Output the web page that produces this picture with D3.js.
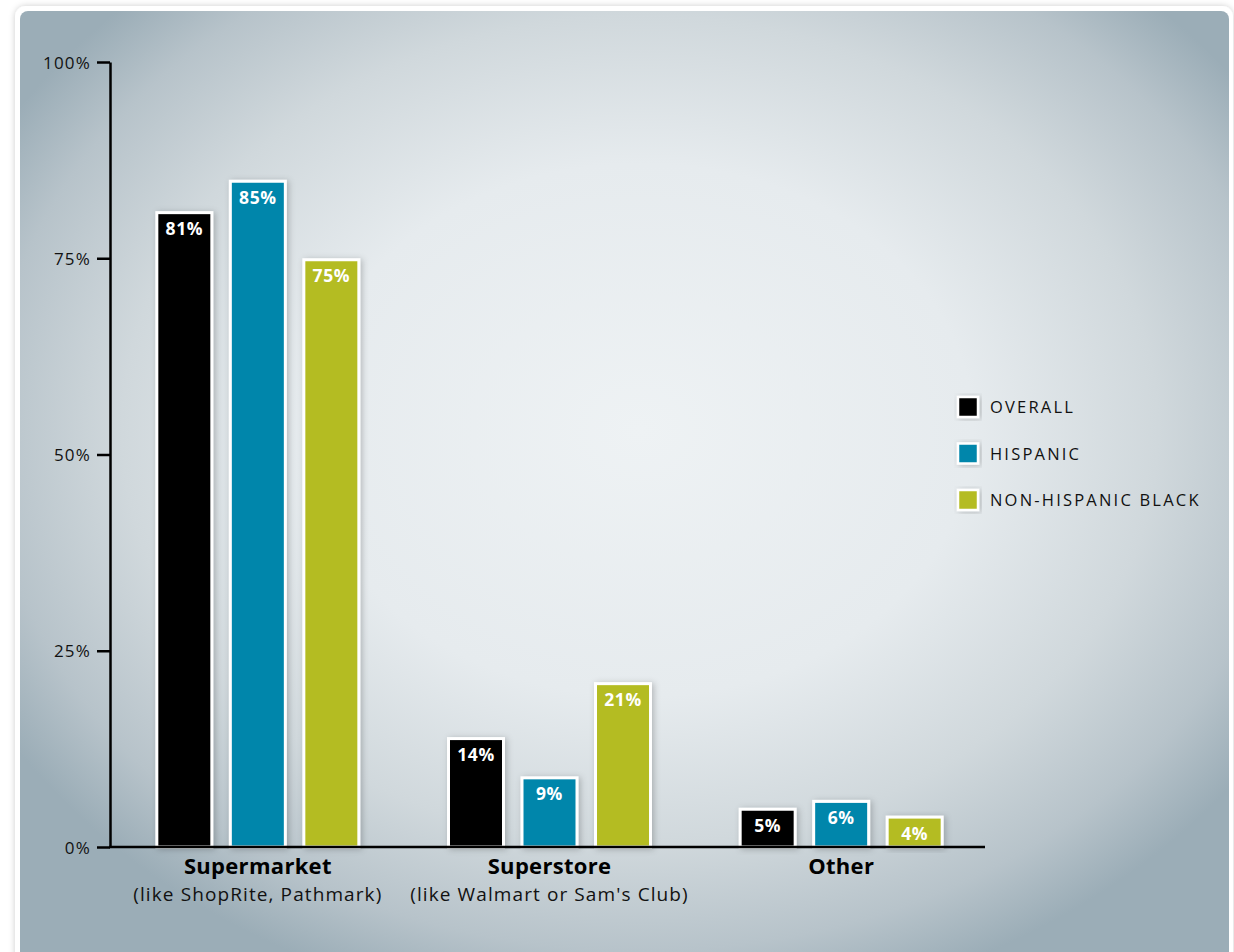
<!DOCTYPE html>
<html><head><meta charset="utf-8">
<script src="https://cdn.jsdelivr.net/npm/d3@7"></script>
<style>html,body{margin:0;padding:0;background:#fff;}svg{display:block;}</style>
</head><body>
<script>
const categories = ["Supermarket", "Superstore", "Other"];
const subtitles = ["(like ShopRite, Pathmark)", "(like Walmart or Sam's Club)", ""];
const series = ["OVERALL", "HISPANIC", "NON-HISPANIC BLACK"];
const overall = [81, 14, 5];
const hispanic = [85, 9, 6];
const nonHispanicBlack = [75, 21, 4];
const yTicks = [0, 25, 50, 75, 100];
const colors = ["#000000", "#0086ab", "#b4bc22"];

const values = [overall, hispanic, nonHispanicBlack];
const W = 1234, H = 952;
const svg = d3.select("body").append("svg").attr("width", W).attr("height", H);
const defs = svg.append("defs");
const rg = defs.append("radialGradient").attr("id","bg").attr("gradientUnits","userSpaceOnUse")
  .attr("cx",640).attr("cy",430).attr("r",740).attr("gradientTransform","translate(640,430) scale(1,0.8) translate(-640,-430)");
rg.append("stop").attr("offset","0").attr("stop-color","#eef2f4");
rg.append("stop").attr("offset","0.45").attr("stop-color","#e6ebee");
rg.append("stop").attr("offset","0.7").attr("stop-color","#d0d8dc");
rg.append("stop").attr("offset","0.88").attr("stop-color","#b7c3ca");
rg.append("stop").attr("offset","1").attr("stop-color","#9badb7");
const sh = defs.append("filter").attr("id","sh").attr("x","-20%").attr("y","-20%").attr("width","140%").attr("height","140%");
sh.append("feDropShadow").attr("dx",2).attr("dy",1).attr("stdDeviation",3).attr("flood-color","#000").attr("flood-opacity",0.22);
const psh = defs.append("filter").attr("id","psh").attr("x","-5%").attr("y","-5%").attr("width","110%").attr("height","110%");
psh.append("feDropShadow").attr("dx",0).attr("dy",0).attr("stdDeviation",3).attr("flood-color","#000").attr("flood-opacity",0.2);

svg.append("rect").attr("x",15).attr("y",6).attr("width",1218).attr("height",970).attr("rx",11)
  .attr("fill","#fff").attr("filter","url(#psh)");
svg.append("rect").attr("x",20).attr("y",11).attr("width",1209).attr("height",960).attr("rx",8)
  .attr("fill","url(#bg)");

const y = d3.scaleLinear().domain([0,100]).range([847,62]);
const x0 = d3.scaleBand().domain(categories).range([112,987]);
const x1 = d3.scaleBand().domain(series).range([-102.5,102.5]).paddingInner(0.211);

const font = "'Open Sans', 'Noto Sans', sans-serif";

// y axis
const yAxis = d3.axisLeft(y).tickValues(yTicks).tickFormat(d=>d+"%").tickSize(13).tickSizeOuter(0);
const ga = svg.append("g").attr("transform","translate(110,0)").call(yAxis);
ga.select(".domain").attr("stroke","#000").attr("stroke-width",2.5);
ga.selectAll(".tick line").attr("stroke","#000").attr("stroke-width",2.5);
ga.selectAll(".tick text").attr("font-family",font).attr("font-size",17).attr("letter-spacing",1.2).attr("fill","#111")
  .attr("x",-19).attr("dy","0.36em");

// bars
const groups = svg.append("g").selectAll("g").data(categories).join("g")
  .attr("transform", c => `translate(${x0(c)+x0.bandwidth()/2},0)`);
groups.each(function(c, ci){
  const g = d3.select(this);
  series.forEach((s, si) => {
    const v = values[si][ci];
    g.append("rect").attr("x", x1(s)+1.5).attr("y", y(v)+1.5)
      .attr("width", x1.bandwidth()-3).attr("height", y(0)-y(v)-1.5)
      .attr("fill", colors[si]).attr("stroke","#fff").attr("stroke-width",3).attr("filter","url(#sh)");
    g.append("text").attr("x", x1(s)+x1.bandwidth()/2).attr("y", y(v)+24)
      .attr("text-anchor","middle").attr("font-family",font).attr("font-weight",700)
      .attr("font-size",17.5).attr("letter-spacing",0.6).attr("fill","#fff").text(v+"%");
  });
  g.append("text").attr("x",0).attr("y",874).attr("text-anchor","middle")
    .attr("font-family",font).attr("font-weight",700).attr("font-size",22).attr("letter-spacing",0.3)
    .attr("fill","#000").text(c);
  g.append("text").attr("x",0).attr("y",901).attr("text-anchor","middle")
    .attr("font-family",font).attr("font-size",19).attr("letter-spacing",1.1).attr("fill","#111").text(subtitles[ci]);
});

// x axis line
svg.append("line").attr("x1",109).attr("x2",x0.range()[1]-2).attr("y1",y(0)).attr("y2",y(0))
  .attr("stroke","#000").attr("stroke-width",2.5);

// legend
const lg = svg.append("g").selectAll("g").data(series).join("g")
  .attr("transform",(d,i)=>`translate(957,${396+i*46.5})`);
lg.append("rect").attr("x",1).attr("y",1).attr("width",20).attr("height",20)
  .attr("fill",(d,i)=>colors[i]).attr("stroke","#fff").attr("stroke-width",2.5).attr("filter","url(#sh)");
lg.append("text").attr("x",33).attr("y",17).attr("font-family",font).attr("font-size",16.5)
  .attr("letter-spacing",2.2).attr("fill","#111").text(d=>d);
</script>
</body></html>
